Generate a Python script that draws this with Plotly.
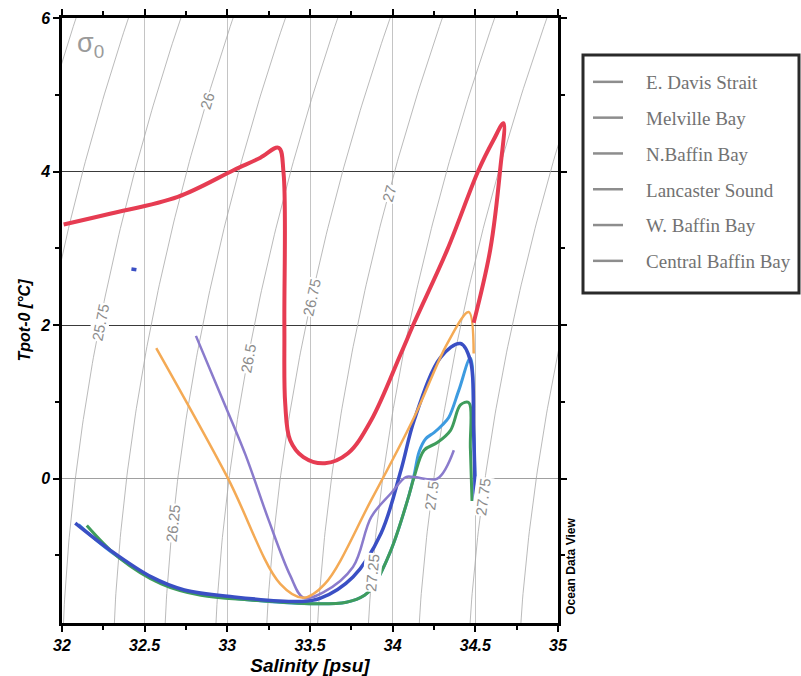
import numpy as np
import plotly.graph_objects as go

# ---------------- station profiles: salinity (psu) / potential temperature (degC) ----------------
davis_s = [32.01, 32.29, 32.70, 33.04, 33.20, 33.31, 33.34, 33.345, 33.35, 33.38, 33.46, 33.59,
           33.73, 33.87, 34.05, 34.13, 34.33, 34.52, 34.61, 34.67, 34.65, 34.59, 34.49]
davis_t = [3.31, 3.45, 3.67, 4.02, 4.18, 4.31, 3.98, 2.00, 0.98, 0.50, 0.28, 0.20,
           0.33, 0.76, 1.63, 2.03, 2.98, 4.02, 4.41, 4.63, 4.02, 2.98, 2.03]

melville_s = [32.57, 33.00, 33.32, 33.46, 33.59, 33.87, 34.13, 34.33, 34.46, 34.49]
melville_t = [1.70, 0.02, -1.37, -1.55, -1.37, -0.28, 0.80, 1.76, 2.17, 1.63]

nbaffin_s = [32.81, 32.96, 33.11, 33.25, 33.38, 33.46, 33.58, 33.76, 33.87, 33.99, 34.08, 34.13, 34.27, 34.37]
nbaffin_t = [1.86, 1.09, 0.31, -0.54, -1.26, -1.55, -1.48, -1.15, -0.50, -0.19, 0.02, 0.02, 0.00, 0.37]

lancaster_s = [32.15, 32.34, 32.60, 32.84, 33.14, 33.52, 33.72, 33.83, 33.88, 33.99, 34.09,
               34.13, 34.19, 34.27, 34.35, 34.41, 34.46, 34.47, 34.48]
lancaster_t = [-0.61, -1.02, -1.37, -1.52, -1.58, -1.63, -1.61, -1.52, -1.41, -0.93, -0.28,
               0.02, 0.37, 0.47, 0.63, 0.96, 0.99, 0.40, -0.29]

wbaffin_s = [32.10, 32.30, 32.56, 32.78, 33.14, 33.52, 33.72, 33.83, 33.88, 33.99, 34.09, 34.13,
             34.16, 34.20, 34.25, 34.30, 34.34, 34.40, 34.47, 34.49, 34.50]
wbaffin_t = [-0.60, -0.96, -1.31, -1.48, -1.58, -1.63, -1.61, -1.52, -1.41, -0.93, -0.28, 0.05,
             0.35, 0.52, 0.60, 0.70, 0.80, 1.15, 1.57, 0.60, -0.20]

central_s = [32.08, 32.29, 32.54, 32.74, 33.04, 33.44, 33.56, 33.76, 33.93, 34.05, 34.13, 34.29,
             34.41, 34.47, 34.49, 34.50, None, 32.42, 32.45]
central_t = [-0.58, -0.93, -1.28, -1.45, -1.54, -1.60, -1.56, -1.28, -0.71, 0.11, 0.76, 1.58,
             1.76, 1.54, 0.60, -0.29, None, 2.73, 2.72]

region_names = ["E. Davis Strait", "Melville Bay", "N.Baffin Bay",
                "Lancaster Sound", "W. Baffin Bay", "Central Baffin Bay"]

# isopycnal levels (sigma-0) and where their labels sit (temperature along each line)
sigma_levels = [25.0, 25.25, 25.5, 25.75, 26.0, 26.25, 26.5, 26.75, 27.0,
                27.25, 27.5, 27.75, 28.0, 28.25]
label_levels = [25.75, 26.0, 26.25, 26.5, 26.75, 27.0, 27.25, 27.5, 27.75]
label_labels = ["25.75", "26", "26.25", "26.5", "26.75", "27", "27.25", "27.5", "27.75"]
label_temps = [2.04, 4.93, -0.58, 1.57, 2.36, 3.72, -1.22, -0.22, -0.24]

x_tick_vals = [32, 32.5, 33, 33.5, 34, 34.5, 35]
x_tick_text = ["32", "32.5", "33", "33.5", "34", "34.5", "35"]
y_tick_vals = [0, 2, 4, 6]
y_tick_text = ["0", "2", "4", "6"]

X_RANGE = [32, 35]
Y_RANGE = [-1.88, 6]


def sigma0(s, t):
    """UNESCO EOS-80 surface density anomaly (kg/m3)."""
    rho_w = (999.842594 + 6.793952e-2 * t - 9.095290e-3 * t**2 + 1.001685e-4 * t**3
             - 1.120083e-6 * t**4 + 6.536332e-9 * t**5)
    a = 0.824493 - 4.0899e-3 * t + 7.6438e-5 * t**2 - 8.2467e-7 * t**3 + 5.3875e-9 * t**4
    b = -5.72466e-3 + 1.0227e-4 * t - 1.6546e-6 * t**2
    c = 4.8314e-4
    return rho_w + a * s + b * s**1.5 + c * s**2 - 1000.0


S_FINE = np.linspace(29.0, 37.0, 4001)


def isopycnal_salinity(level, temps):
    temps = np.atleast_1d(temps)
    out = []
    for t in temps:
        sig = sigma0(S_FINE, t)
        out.append(np.interp(level, sig, S_FINE))
    return np.array(out)


# ---------------- layout geometry ----------------
W, H = 801, 676
M_L, M_R, M_T, M_B = 62, 243, 18, 53
plot_w = W - M_L - M_R
plot_h = H - M_T - M_B
px_per_s = plot_w / (X_RANGE[1] - X_RANGE[0])
px_per_t = plot_h / (Y_RANGE[1] - Y_RANGE[0])

fig = go.Figure()

# isopycnals
t_grid = np.linspace(-2.3, 6.4, 120)
for lev in sigma_levels:
    fig.add_trace(go.Scatter(
        x=isopycnal_salinity(lev, t_grid), y=t_grid, mode="lines",
        line=dict(color="#a8a8a8", width=0.8), hoverinfo="skip", showlegend=False))

# isopycnal labels, rotated along each line
annotations = []
for lev, txt, t0 in zip(label_levels, label_labels, label_temps):
    s0 = isopycnal_salinity(lev, t0)[0]
    s1 = isopycnal_salinity(lev, t0 + 0.05)[0]
    dx = (s1 - s0) * px_per_s
    dy = -0.05 * px_per_t
    ang = np.degrees(np.arctan2(dy, dx))
    annotations.append(dict(
        x=s0, y=t0, xref="x", yref="y", text=txt, showarrow=False, textangle=ang,
        font=dict(family="Liberation Sans", size=15, color="#8c8c8c"),
        bgcolor="white", borderpad=0))

# sigma-0 marker
annotations.append(dict(
    x=32.17, y=5.65, xref="x", yref="y", text="σ<sub>0</sub>", showarrow=False,
    font=dict(family="Liberation Sans", size=27, color="#9a9a9a")))

annotations.append(dict(
    x=1, y=0.093, xref="paper", yref="paper", xanchor="left", yanchor="middle", xshift=4,
    text="<b>Ocean Data View</b>", showarrow=False, textangle=-90,
    font=dict(family="Liberation Sans", size=12, color="black")))

# region profiles (drawn in layering order)
series = [
    ("W. Baffin Bay", wbaffin_s, wbaffin_t, "#3d9be0", 3),
    ("Lancaster Sound", lancaster_s, lancaster_t, "#3f9c5c", 3),
    ("Central Baffin Bay", central_s, central_t, "#3a4fc4", 3.5),
    ("N.Baffin Bay", nbaffin_s, nbaffin_t, "#8a7bcc", 2.5),
    ("Melville Bay", melville_s, melville_t, "#f4aa55", 2.5),
    ("E. Davis Strait", davis_s, davis_t, "#e63c52", 4),
]
for name, s, t, col, w in series:
    fig.add_trace(go.Scatter(
        x=s, y=t, mode="lines", name=name, legendgroup=name, showlegend=False,
        line=dict(color=col, width=w, shape="spline", smoothing=1.0)))

# monochrome key entries
pad = "\u00a0" * 3 + "\u2009"
for name in region_names:
    fig.add_trace(go.Scatter(
        x=[None], y=[None], mode="lines", name=pad + name, legendgroup=name,
        line=dict(color="#8d8d8d", width=2.5), showlegend=True))

axis_font = dict(family="Liberation Sans", size=16, color="black", weight="bold", style="italic")

fig.update_layout(
    width=W, height=H,
    margin=dict(l=M_L, r=M_R, t=M_T, b=M_B, autoexpand=False),
    paper_bgcolor="white", plot_bgcolor="white",
    annotations=annotations,
    legend=dict(
        x=(588 - M_L) / plot_w, y=(H - M_B - 63) / plot_h, xanchor="left", yanchor="top",
        bgcolor="rgba(0,0,0,0)", borderwidth=0, tracegroupgap=8.1,
        font=dict(family="Liberation Serif", size=19, color="#727272")),
    shapes=[dict(
        type="rect", xref="paper", yref="paper",
        x0=(583 - M_L) / plot_w, x1=(799 - M_L) / plot_w,
        y0=(H - M_B - 293) / plot_h, y1=(H - M_B - 55) / plot_h,
        line=dict(color="#2a2a2a", width=3), fillcolor="rgba(0,0,0,0)")],
    xaxis=dict(
        range=X_RANGE, tickvals=x_tick_vals, ticktext=x_tick_text, automargin=False,
        showline=True, linecolor="black", linewidth=2.5, mirror="ticks",
        ticks="outside", ticklen=6, tickwidth=2, tickcolor="black",
        minor=dict(dtick=0.25, ticks="outside", ticklen=4, tickwidth=1.5, tickcolor="black", showgrid=False),
        showgrid=True, gridcolor="#c4c4c4", gridwidth=1, zeroline=False,
        tickfont=axis_font,
        title=dict(text="Salinity [psu]", standoff=6,
                   font=dict(family="Liberation Sans", size=19, color="black", weight="bold", style="italic"))),
    yaxis=dict(
        range=Y_RANGE, tickvals=y_tick_vals, ticktext=y_tick_text, automargin=False,
        showline=True, linecolor="black", linewidth=2.5, mirror="ticks",
        ticks="outside", ticklen=6, tickwidth=2, tickcolor="black",
        minor=dict(dtick=1, ticks="outside", ticklen=4, tickwidth=1.5, tickcolor="black", showgrid=False),
        showgrid=True, gridcolor="#3a3a3a", gridwidth=1,
        zeroline=True, zerolinecolor="#a0a0a0", zerolinewidth=1,
        tickfont=axis_font,
        title=dict(text="Tpot-0 [°C]", standoff=6,
                   font=dict(family="Liberation Sans", size=16, color="black", weight="bold", style="italic"))),
)

fig.write_html("out.html")
